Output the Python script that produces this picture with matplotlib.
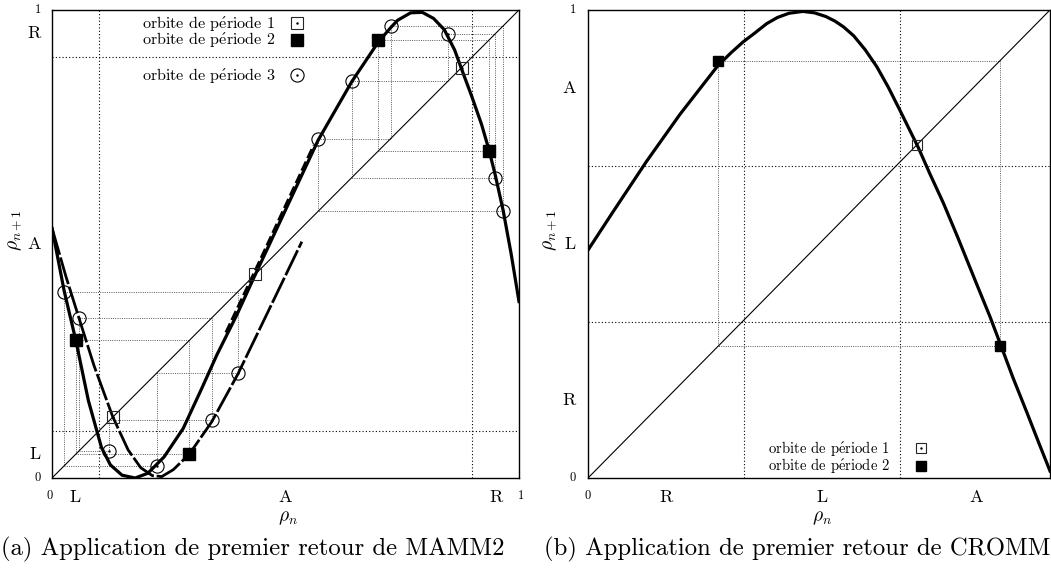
import matplotlib
matplotlib.use('Agg')
import matplotlib.pyplot as plt

plt.rcParams['mathtext.fontset'] = 'cm'
plt.rcParams['font.family'] = 'serif'
plt.rcParams['font.serif'] = ['cmr10']
plt.rcParams['axes.formatter.use_mathtext'] = True

# ---- (a) MAMM2 ----
part_a = [0.1, 0.9]
lab_a = ['L', 'A', 'R']
labpos_a = [0.05, 0.5, 0.95]

# branche principale
b1_x = [0.0, 0.026, 0.051, 0.078, 0.106, 0.125, 0.150, 0.178, 0.205, 0.240,
        0.281, 0.320, 0.353, 0.395, 0.435, 0.495, 0.570, 0.642, 0.699, 0.725,
        0.740, 0.768, 0.793, 0.817, 0.840, 0.862, 0.877, 0.899, 0.920, 0.936,
        0.949, 0.966, 0.983, 1.0]
b1_y = [0.534, 0.400, 0.294, 0.165, 0.065, 0.028, 0.006, 0.0, 0.010, 0.045,
        0.106, 0.190, 0.263, 0.347, 0.434, 0.562, 0.722, 0.847, 0.932, 0.962,
        0.978, 0.994, 0.995, 0.982, 0.958, 0.915, 0.874, 0.815, 0.755, 0.700,
        0.648, 0.572, 0.480, 0.377]
# seconde branche
b2_x = [0.0, 0.030, 0.058, 0.090, 0.130, 0.163, 0.190, 0.215, 0.235, 0.260,
        0.294, 0.342, 0.398, 0.460, 0.535]
b2_y = [0.534, 0.430, 0.341, 0.240, 0.131, 0.060, 0.022, 0.005, 0.003, 0.018,
        0.051, 0.120, 0.222, 0.350, 0.505]
# brin doublé
b3_x = [0.372, 0.435, 0.500, 0.560]
b3_y = [0.311, 0.444, 0.583, 0.711]

fix_a = [0.130, 0.435, 0.877]
per2_a = [[0.051, 0.294], [0.699, 0.936]]
per3_a = [[0.026, 0.398, 0.224], [0.058, 0.342, 0.123],
          [0.570, 0.725, 0.966], [0.642, 0.849, 0.949]]

# ---- (b) CROMM ----
part_bx = [0.337, 0.675]
part_by = [1 / 3, 2 / 3]
lab_bx = ['R', 'L', 'A']
labpos_bx = [0.17, 0.506, 0.84]
lab_by = ['R', 'L', 'A']
labpos_by = [0.167, 0.5, 0.833]

c_x = [0.0, 0.055, 0.127, 0.199, 0.281, 0.310, 0.336, 0.360, 0.387, 0.410,
       0.435, 0.465, 0.490, 0.515, 0.535, 0.553, 0.575, 0.600, 0.625, 0.650,
       0.675, 0.695, 0.715, 0.740, 0.769, 0.800, 0.841, 0.870, 0.893, 0.920,
       0.950, 0.975, 1.0]
c_y = [0.487, 0.570, 0.677, 0.777, 0.881, 0.909, 0.932, 0.950, 0.971, 0.984,
       0.993, 0.997, 0.994, 0.986, 0.976, 0.964, 0.945, 0.915, 0.879, 0.835,
       0.786, 0.746, 0.706, 0.650, 0.588, 0.515, 0.415, 0.345, 0.285, 0.214,
       0.140, 0.077, 0.015]
fix_b = [0.712]
per2_b = [[0.281, 0.891]]

leg_txt = [r'orbite de p$\acute{\mathrm{e}}$riode 1',
           r'orbite de p$\acute{\mathrm{e}}$riode 2',
           r'orbite de p$\acute{\mathrm{e}}$riode 3']


def cobweb(ax, orb):
    n = len(orb)
    xs, ys = [], []
    for i in range(n):
        a, b, c = orb[i], orb[(i + 1) % n], orb[(i + 2) % n]
        xs += [a, b, b]
        ys += [b, b, c]
    xs.append(xs[0])
    ys.append(ys[0])
    ax.plot(xs, ys, color='0.35', lw=0.7, ls=(0, (1, 1.3)), zorder=1)


def marks(ax, xs, ys, kind, ms):
    if kind == 1:
        ax.plot(xs, ys, 's', ms=ms, mfc='none', mec='0.15', mew=0.8, zorder=5, clip_on=False)
        ax.plot(xs, ys, '.', ms=1.5, color='k', zorder=5, clip_on=False)
    elif kind == 2:
        ax.plot(xs, ys, 's', ms=ms, color='k', zorder=5, clip_on=False)
    else:
        ax.plot(xs, ys, 'o', ms=ms, mfc='none', mec='k', mew=0.8, zorder=5, clip_on=False)
        ax.plot(xs, ys, '.', ms=1.5, color='k', zorder=5, clip_on=False)


def frame(ax, px, py):
    ax.set_xlim(0, 1)
    ax.set_ylim(0, 1)
    ax.set_xticks([])
    ax.set_yticks([])
    for s in ax.spines.values():
        s.set_linewidth(1.0)
    for p in px:
        ax.axvline(p, color='k', lw=0.8, ls=(0, (1, 2)), zorder=1)
    for p in py:
        ax.axhline(p, color='k', lw=0.8, ls=(0, (1, 2)), zorder=1)
    ax.plot([0, 1], [0, 1], color='k', lw=0.8, zorder=2)


fig = plt.figure(figsize=(10.51, 5.69), dpi=100)
axa = fig.add_axes([52 / 1051, 91 / 569, 467 / 1051, 468 / 569])
axb = fig.add_axes([588 / 1051, 91 / 569, 462 / 1051, 468 / 569])

# ---------- (a)
frame(axa, part_a, part_a)
for orb in per2_a + per3_a:
    cobweb(axa, orb)
axa.plot(b1_x, b1_y, color='k', lw=2.3, zorder=3, solid_joinstyle='round')
axa.plot(b2_x, b2_y, color='k', lw=2.0, dashes=(10, 1), zorder=3)
axa.plot(b3_x, b3_y, color='k', lw=1.8, dashes=(4, 1.5), zorder=3)
marks(axa, fix_a, fix_a, 1, 8.5)
for orb in per2_a:
    marks(axa, orb, orb[1:] + orb[:1], 2, 9)
for orb in per3_a:
    marks(axa, orb, orb[1:] + orb[:1], 3, 9.5)

for t, y in zip(leg_txt, [0.972, 0.936, 0.861]):
    axa.text(0.478, y, t, fontsize=11.6, ha='right', va='center')
marks(axa, [0.525], [0.972], 1, 8.5)
marks(axa, [0.525], [0.936], 2, 9)
marks(axa, [0.525], [0.861], 3, 9.5)

for t, p in zip(lab_a, labpos_a):
    axa.text(p, -0.026, t, fontsize=13, ha='center', va='top', transform=axa.transAxes)
    axa.text(-0.024, p, t, fontsize=13, ha='right', va='center', transform=axa.transAxes)
axa.text(-0.006, -0.026, '0', fontsize=9, ha='center', va='top', transform=axa.transAxes)
axa.text(1.004, -0.026, '1', fontsize=9, ha='center', va='top', transform=axa.transAxes)
axa.text(-0.024, 0.0, '0', fontsize=9, ha='right', va='center', transform=axa.transAxes)
axa.text(-0.024, 1.0, '1', fontsize=9, ha='right', va='center', transform=axa.transAxes)
axa.text(0.505, -0.085, r'$\rho_n$', fontsize=14, ha='center', va='center', transform=axa.transAxes)
axa.text(-0.08, 0.53, r'$\rho_{n+1}$', fontsize=14, ha='center', va='center',
         rotation=90, transform=axa.transAxes)

# ---------- (b)
frame(axb, part_bx, part_by)
for orb in per2_b:
    cobweb(axb, orb)
axb.plot(c_x, c_y, color='k', lw=2.3, zorder=3, solid_joinstyle='round')
marks(axb, fix_b, fix_b, 1, 6.5)
for orb in per2_b:
    marks(axb, orb, orb[1:] + orb[:1], 2, 6.5)

for t, y in zip(leg_txt[:2], [0.064, 0.026]):
    axb.text(0.654, y, t, fontsize=10.6, ha='right', va='center')
marks(axb, [0.721], [0.064], 1, 6.5)
marks(axb, [0.721], [0.026], 2, 6.5)

for t, p in zip(lab_bx, labpos_bx):
    axb.text(p, -0.026, t, fontsize=13, ha='center', va='top', transform=axb.transAxes)
for t, p in zip(lab_by, labpos_by):
    axb.text(-0.026, p, t, fontsize=13, ha='right', va='center', transform=axb.transAxes)
axb.text(0.0, -0.026, '0', fontsize=9, ha='center', va='top', transform=axb.transAxes)
axb.text(-0.026, 0.0, '0', fontsize=9, ha='right', va='center', transform=axb.transAxes)
axb.text(-0.026, 1.0, '1', fontsize=9, ha='right', va='center', transform=axb.transAxes)
axb.text(0.506, -0.085, r'$\rho_n$', fontsize=14, ha='center', va='center', transform=axb.transAxes)
axb.text(-0.082, 0.53, r'$\rho_{n+1}$', fontsize=14, ha='center', va='center',
         rotation=90, transform=axb.transAxes)

# légendes des sous-figures
fig.text(0.001, 0.034, '(a) Application de premier retour de MAMM2', fontsize=17.8,
         ha='left', va='center')
fig.text(1.0, 0.034, '(b) Application de premier retour de CROMM', fontsize=17.8,
         ha='right', va='center')

fig.savefig('out.png', dpi=100)
